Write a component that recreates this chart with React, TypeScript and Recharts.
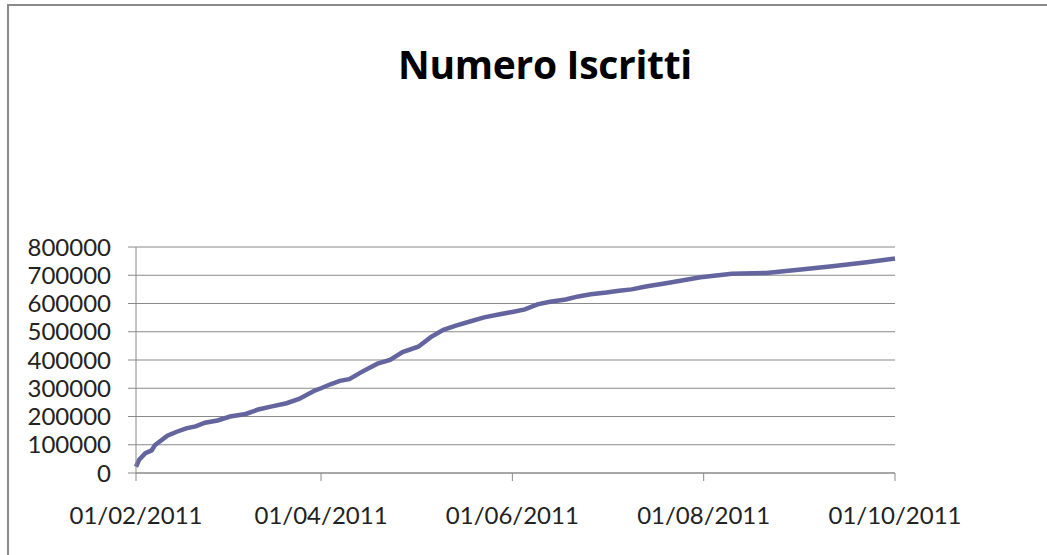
import React from 'react';
import { LineChart, Line, XAxis, YAxis, CartesianGrid } from 'recharts';

// date rilevazione (yyyy-mm-dd) e numero iscritti
const dates = [
  '2011-02-01', '2011-02-02', '2011-02-04', '2011-02-06', '2011-02-07',
  '2011-02-11', '2011-02-14', '2011-02-17', '2011-02-20', '2011-02-23',
  '2011-02-27', '2011-03-03', '2011-03-08', '2011-03-12', '2011-03-16',
  '2011-03-21', '2011-03-25', '2011-03-30', '2011-04-01', '2011-04-04',
  '2011-04-07', '2011-04-10', '2011-04-14', '2011-04-19', '2011-04-23',
  '2011-04-27', '2011-05-02', '2011-05-06', '2011-05-10', '2011-05-14',
  '2011-05-19', '2011-05-23', '2011-05-28', '2011-06-01', '2011-06-05',
  '2011-06-09', '2011-06-13', '2011-06-18', '2011-06-22', '2011-06-26',
  '2011-07-01', '2011-07-05', '2011-07-09', '2011-07-14', '2011-07-20',
  '2011-07-31', '2011-08-10', '2011-08-21', '2011-09-01', '2011-09-11',
  '2011-09-22', '2011-10-01',
];

const iscritti = [
  22000, 47000, 70000, 80000, 98000,
  132000, 146000, 158000, 165000, 178000,
  186000, 200000, 209000, 225000, 235000,
  247000, 262000, 292000, 300000, 314000,
  326000, 332000, 358000, 387000, 400000,
  428000, 447000, 481000, 507000, 522000,
  538000, 551000, 562000, 570000, 579000,
  597000, 606000, 614000, 625000, 633000,
  639000, 645000, 650000, 661000, 672000,
  693000, 705000, 708000, 720000, 732000,
  746000, 759000,
];

const xTicks = ['2011-02-01', '2011-04-01', '2011-06-01', '2011-08-01', '2011-10-01'];
const yTicks = [0, 100000, 200000, 300000, 400000, 500000, 600000, 700000, 800000];

const toTime = (s: string) => {
  const [y, m, d] = s.split('-').map(Number);
  return Date.UTC(y, m - 1, d);
};

const fmtDate = (t: number) => {
  const d = new Date(t);
  const dd = String(d.getUTCDate()).padStart(2, '0');
  const mm = String(d.getUTCMonth() + 1).padStart(2, '0');
  return `${dd}/${mm}/${d.getUTCFullYear()}`;
};

const data = dates.map((s, i) => ({ t: toTime(s), v: iscritti[i] }));

const font = 'Lato, "Open Sans", sans-serif';
const gray = '#8a8a8a';

export default function App() {
  return (
    <div style={{ position: 'absolute', left: 0, top: 0, width: 1047, height: 555, background: '#fff', fontFamily: font }}>
      {/* cornice del grafico */}
      <div style={{ position: 'absolute', left: 7, top: 4, right: 0, bottom: 0, borderTop: `2px solid ${gray}`, borderLeft: `2px solid ${gray}` }} />
      <div style={{ position: 'absolute', left: 345, top: 39, width: 400, textAlign: 'center', fontFamily: '"Open Sans", sans-serif', fontSize: 39, fontWeight: 700, letterSpacing: -0.3, color: '#000', lineHeight: '50px', whiteSpace: 'nowrap' }}>
        Numero Iscritti
      </div>
      <div style={{ position: 'absolute', left: 0, top: 0 }}>
        <LineChart width={1047} height={555} data={data} margin={{ top: 247, right: 152, bottom: 0, left: 0 }}>
          <CartesianGrid vertical={false} stroke={gray} strokeWidth={1.2} />
          <XAxis
            dataKey="t"
            type="number"
            scale="time"
            domain={[toTime(xTicks[0]), toTime(xTicks[xTicks.length - 1])]}
            ticks={xTicks.map(toTime)}
            tickFormatter={fmtDate}
            interval={0}
            stroke={gray}
            tickSize={8}
            tickMargin={26}
            tick={{ fill: '#222', fontSize: 24, fontFamily: font }}
            height={82}
          />
          <YAxis
            domain={[0, 800000]}
            ticks={yTicks}
            interval={0}
            stroke={gray}
            tickSize={8}
            tickMargin={17}
            width={136}
            tick={{ fill: '#222', fontSize: 24, fontFamily: font }}
          />
          <Line
            type="linear"
            dataKey="v"
            stroke="#64649e"
            strokeWidth={4.5}
            dot={false}
            isAnimationActive={false}
          />
        </LineChart>
      </div>
    </div>
  );
}
